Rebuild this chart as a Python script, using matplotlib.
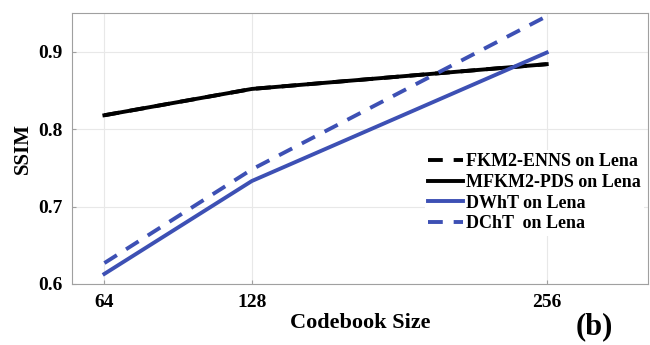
import numpy as np
import matplotlib
matplotlib.use('Agg')
import matplotlib.pyplot as plt

plt.rcParams['font.family'] = ['Liberation Serif', 'DejaVu Serif']
plt.rcParams['font.weight'] = 'bold'

codebook = [64, 128, 256]
fkm2_enns = [0.818, 0.852, 0.884]
mfkm2_pds = [0.818, 0.852, 0.884]
dwht = [0.613, 0.733, 0.899]
dcht = [0.627, 0.748, 0.946]

blue = '#3d50b4'
dash = (0, (3.8, 2.8))

fig = plt.figure(figsize=(6.5, 3.45), dpi=100)
ax = fig.add_axes([0.111, 0.177, 0.886, 0.785])

ax.plot(codebook, fkm2_enns, color='black', lw=2.8, ls=dash, label='FKM2-ENNS on Lena')
ax.plot(codebook, mfkm2_pds, color='black', lw=2.8, label='MFKM2-PDS on Lena')
ax.plot(codebook, dwht, color=blue, lw=2.8, label='DWhT on Lena')
ax.plot(codebook, dcht, color=blue, lw=2.8, ls=dash, label='DChT  on Lena')

ax.set_xlim(50, 300)
ax.set_ylim(0.6, 0.95)
ax.set_xticks(codebook)
ax.set_yticks([0.6, 0.7, 0.8, 0.9])
ax.set_yticklabels(['0.6', '0.7', '0.8', '0.9'])
ax.grid(True, color='#e8e8e8', lw=0.8)
ax.set_axisbelow(True)
for s in ax.spines.values():
    s.set_color('#a0a0a0')
ax.tick_params(direction='in', length=3, color='#a0a0a0', labelsize=14, pad=7)

ax.set_xlabel('Codebook Size', fontsize=16, fontweight='bold', labelpad=2)
ax.set_ylabel('SSIM', fontsize=15, fontweight='bold', labelpad=4)

leg = ax.legend(loc='upper left', bbox_to_anchor=(0.612, 0.495), frameon=True,
                facecolor='white', edgecolor='none', framealpha=1, fancybox=False,
                fontsize=13, handlelength=1.9, handletextpad=0.2, labelspacing=0.2,
                borderaxespad=0, borderpad=0.2)

fig.text(0.886, 0.03, '(b)', fontsize=22, fontweight='bold')

fig.savefig('out.png', dpi=100)
